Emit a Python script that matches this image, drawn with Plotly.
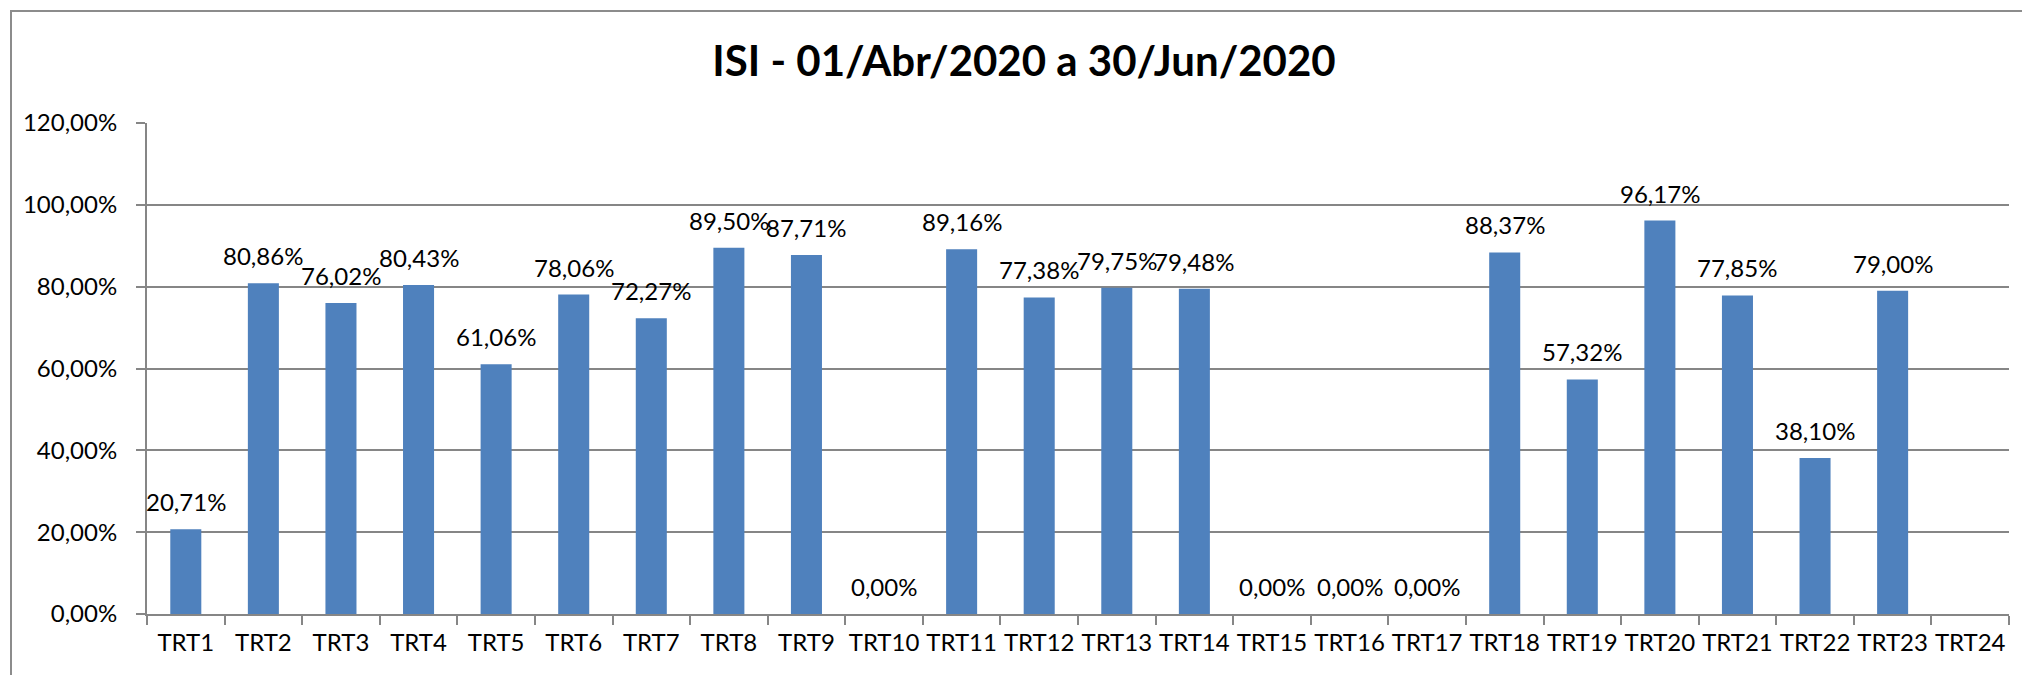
import plotly.graph_objects as go

categories = [f"TRT{i}" for i in range(1, 25)]
values = [20.71, 80.86, 76.02, 80.43, 61.06, 78.06, 72.27, 89.50, 87.71, 0.00,
          89.16, 77.38, 79.75, 79.48, 0.00, 0.00, 0.00, 88.37, 57.32, 96.17,
          77.85, 38.10, 79.00, None]
y_ticks = [0, 20, 40, 60, 80, 100, 120]
title_text = "ISI - 01/Abr/2020 a 30/Jun/2020"

W, H = 2022, 675
L, R, T, B = 147, 13, 123, 61
FONT = "Lato"

def fmt(v):
    return f"{v:.2f}".replace(".", ",") + "%"

fig = go.Figure()
fig.add_trace(go.Bar(
    x=categories,
    y=values,
    marker=dict(color="#4F81BD", line=dict(width=0)),
    hoverinfo="x+y",
))

annotations = []
for c, v in zip(categories, values):
    if v is None:
        continue
    annotations.append(dict(
        x=c, y=v, xref="x", yref="y", text=fmt(v), showarrow=False,
        yanchor="bottom", yshift=11,
        font=dict(family=FONT, size=24, color="#000000"),
    ))

pw = W - L - R
ph = H - T - B
def px_x(p):
    return (p - L) / pw
def px_y(p):
    return 1 - (p - T) / ph

shapes = [dict(
    type="rect", xref="paper", yref="paper",
    x0=px_x(11), x1=px_x(W + 20), y0=px_y(H + 20), y1=px_y(11),
    line=dict(color="#8C8C8C", width=2), fillcolor="rgba(0,0,0,0)", layer="below",
)]

fig.update_layout(
    width=W, height=H,
    margin=dict(l=L, r=R, t=T, b=B, autoexpand=False),
    paper_bgcolor="white", plot_bgcolor="white",
    bargap=0.6,
    showlegend=False,
    title=dict(text=f"<b>{title_text}</b>", x=1024 / W, xanchor="center",
               y=1 - 61 / H, yanchor="middle", xref="container", yref="container",
               font=dict(family=FONT, size=42, color="#000000")),
    annotations=annotations,
    shapes=shapes,
    xaxis=dict(
        type="category", categoryorder="array", categoryarray=categories,
        tickson="boundaries", ticks="outside", ticklen=9, tickcolor="#868686",
        tickwidth=2, showline=True, linecolor="#868686", linewidth=2,
        showgrid=False, tickfont=dict(family=FONT, size=24, color="#000000"),
        tickangle=0, automargin=False,
        ticklabelstandoff=6, range=[-0.5, 23.5],
    ),
    yaxis=dict(
        range=[0, 120], tickvals=y_ticks,
        ticktext=[f"{t:.2f}".replace(".", ",") + "%" for t in y_ticks],
        ticks="outside", ticklen=9, tickcolor="#868686", tickwidth=2,
        showline=True, linecolor="#868686", linewidth=2,
        showgrid=True, gridcolor="#868686", gridwidth=2, zeroline=False,
        tickfont=dict(family=FONT, size=24, color="#000000"),
        ticklabelstandoff=14, automargin=False,
    ),
)

fig.write_html(
    "out.html",
    config={"displayModeBar": False},
    post_script="document.body.style.margin='0';document.body.style.overflow='hidden';",
)
